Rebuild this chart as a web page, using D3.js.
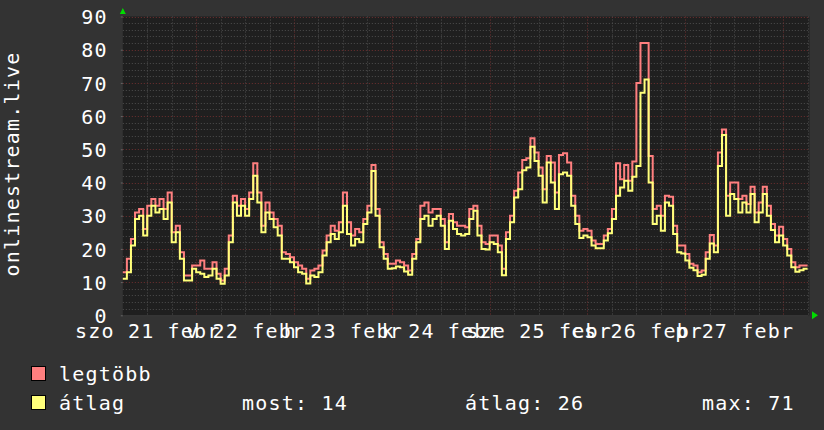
<!DOCTYPE html>
<html><head><meta charset="utf-8">
<script src="https://cdn.jsdelivr.net/npm/d3@7"></script>
<style>
html,body{margin:0;padding:0;background:#333333;}
svg{display:block;}
text{font-family:"DejaVu Sans Mono",monospace;font-size:20px;letter-spacing:1.2px;fill:#ffffff;}
</style>
</head><body>
<svg id="c" width="824" height="430"></svg>
<script>
// hourly values, starting szo 21 febr 06:00, 168 hours
const maxValues = [13,17,23,31,32,26,33,35,33,35,32,37,25,27,19,12,12,15,15,16.5,14,14,16,12.5,10.5,14,24,36,33,35,32,37,45.8,37,27,34,31,29,27,19,18.5,17.5,16,15,14,11,13.5,14,15,19.5,24,27,25.5,28,37,28,24,26,25,29,33,45.3,32,22,18.5,15.5,15.5,16.5,16,15,13.5,18.5,23,33,34,31,32,32,29,22,30.5,28,27,27,26.5,32,33,27,22,21.5,24,24,21,14,25,30,37.5,43,46.8,47.3,53.3,49,44.5,38,48,46,37,48.3,48.8,46,36,30,25.5,26,25.5,22.5,21.5,21.5,24,26,32,45.8,41,45.3,40.5,46.3,70,82,82,48,32,33,30,36,35.7,27,21,21,18.5,15.5,15,13,13.5,19,24.2,21,49,56,36,40,40,35,36,33.5,38.7,31,34,38.7,33,27.5,24,26.7,23,20,16,14.5,15,15];
const avgValues = [11,13,21,29,30,24,30,33,31,32,29,34,22,25,17,10.5,10.5,14,13,12.5,11.5,12,14,11,9.5,12,22,34,30,33,30,35,42,34,25,31,29,26.5,24,17,17,16,14.5,13,12.5,9.6,12,11.5,13,18,22,24.5,23,25,33,24.5,21,23,22,27.5,31,43.5,30,20.5,17,14,14.2,14.7,14.5,13.2,12.2,17,22,29,30,27,29,30,27,20,28.5,26,24.5,24,24.5,29,31.5,24,20,19.8,22,21.5,19,12.1,23,28,35.5,38,43.7,44.5,50.8,46.5,42,34,46,40,32,42.5,43,42,33,27.5,23.3,24,23.5,21,20.2,20.2,22.5,24.7,29,36,38.5,40.5,37.5,41.7,45,67,71,40,27.5,30,25.5,34,33,24.5,19,18.6,16.5,14.3,13.6,11.8,12.2,17,21.6,19,45,54.3,30,36.5,35,31,34,31,36.5,28,31,36.5,30,25.7,22,24,21,18,14.5,13.1,13.6,14];
const yTicks = [0,10,20,30,40,50,60,70,80,90];
const dayLabels = ["szo 21 febr","v 22 febr","h 23 febr","k 24 febr","sze 25 febr","cs 26 febr","p 27 febr"];
const dayLabelHours = [6,30,54,78,102,126,150];
const seriesNames = ["legtöbb","átlag"];
const seriesColors = ["#ff7f7f","#ffff7a"];
const statLabels = ["most: 14","átlag: 26","max: 71"];
const yTitle = "onlinestream.live";

const svg = d3.select("#c");
const plot = {left:122.8, right:807.6, top:16.5, bottom:315.3};
const x = d3.scaleLinear().domain([0,168]).range([plot.left, plot.right]);
const y = d3.scaleLinear().domain([0,90]).range([plot.bottom, plot.top]);

svg.append("rect").attr("width",824).attr("height",430).attr("fill","#333333");
svg.append("rect").attr("x",plot.left).attr("y",plot.top)
  .attr("width",809.5-plot.left).attr("height",plot.bottom-plot.top).attr("fill","#1f1f1f");

const g = svg.append("g");
const minorCol = "#4e4e4e", majorCol = "#703030";
// horizontal grid
const minorY = d3.range(2,90,2).filter(v=>v%10!==0);
g.selectAll(".hmin").data(minorY).enter().append("line")
  .attr("x1",plot.left).attr("x2",809.5).attr("y1",d=>Math.round(y(d))+0.5).attr("y2",d=>Math.round(y(d))+0.5)
  .attr("stroke",minorCol).attr("stroke-dasharray","1,2");
// vertical grid
const minorX = d3.range(6,169,6).filter(h=>(h-18)%24!==0);
const majorX = d3.range(18,168,24);
g.selectAll(".vmin").data(minorX).enter().append("line")
  .attr("x1",d=>Math.round(x(d))+0.5).attr("x2",d=>Math.round(x(d))+0.5).attr("y1",plot.top).attr("y2",plot.bottom)
  .attr("stroke",minorCol).attr("stroke-dasharray","1,2");
g.selectAll(".hmaj").data(yTicks.filter(v=>v>0)).enter().append("line")
  .attr("x1",plot.left).attr("x2",809.5).attr("y1",d=>Math.round(y(d))+0.5).attr("y2",d=>Math.round(y(d))+0.5)
  .attr("stroke",majorCol).attr("stroke-dasharray","1,2");
g.selectAll(".vmaj").data(majorX).enter().append("line")
  .attr("x1",d=>Math.round(x(d))+0.5).attr("x2",d=>Math.round(x(d))+0.5).attr("y1",plot.top).attr("y2",plot.bottom)
  .attr("stroke",majorCol).attr("stroke-dasharray","1,2");

// axes
const yAxis = d3.axisLeft(y).tickValues(yTicks).tickSize(2).tickPadding(13).tickFormat(d3.format("d"));
const ya = svg.append("g").attr("transform",`translate(${plot.left},0)`).call(yAxis);
ya.select(".domain").remove();
ya.selectAll("line").attr("stroke","#666");
ya.selectAll("text").attr("dy","0.36em").style("font-size","20px").attr("fill","#ffffff").attr("font-family",null);

const xAxis = d3.axisBottom(x).tickValues(dayLabelHours).tickSize(0).tickPadding(0)
  .tickFormat((d,i)=>dayLabels[i]);
const xa = svg.append("g").attr("transform",`translate(0,${plot.bottom})`).call(xAxis);
xa.select(".domain").attr("stroke","#3a3a3a");
xa.selectAll("text").attr("y",23).attr("dy",0).attr("fill","#ffffff").attr("font-family",null).style("font-size","20px");

// lines
const line = d3.line().x(d=>x(d[0])).y(d=>y(d[1])).curve(d3.curveStepAfter);
const toPts = arr => arr.map((v,i)=>[i,v]).concat([[arr.length, arr[arr.length-1]]]);
[maxValues, avgValues].forEach((arr,i)=>{
  svg.append("path").attr("d",line(toPts(arr))).attr("fill","none")
    .attr("stroke",seriesColors[i]).attr("stroke-width",2).attr("stroke-linejoin","miter");
});

// arrows
svg.append("path").attr("d",`M${plot.left-3},14 L${plot.left+3},14 L${plot.left},8 Z`).attr("fill","#00dd00");
svg.append("path").attr("d",`M812,${plot.bottom-4} L812,${plot.bottom+4} L818,${plot.bottom} Z`).attr("fill","#00dd00");

// y title
svg.append("text").attr("transform","translate(19,164) rotate(-90)").attr("text-anchor","middle").text(yTitle);

// legend
const legY = [366,395];
seriesNames.forEach((n,i)=>{
  svg.append("rect").attr("x",31.5).attr("y",legY[i]+0.5).attr("width",14).attr("height",14)
    .attr("fill",seriesColors[i]).attr("stroke","#000").attr("stroke-width",1);
  svg.append("text").attr("x",59).attr("y",legY[i]+15).text(n);
});
const statX = [242,465,702];
statLabels.forEach((s,i)=>{
  svg.append("text").attr("x",statX[i]).attr("y",legY[1]+15).text(s);
});
</script>
</body></html>
